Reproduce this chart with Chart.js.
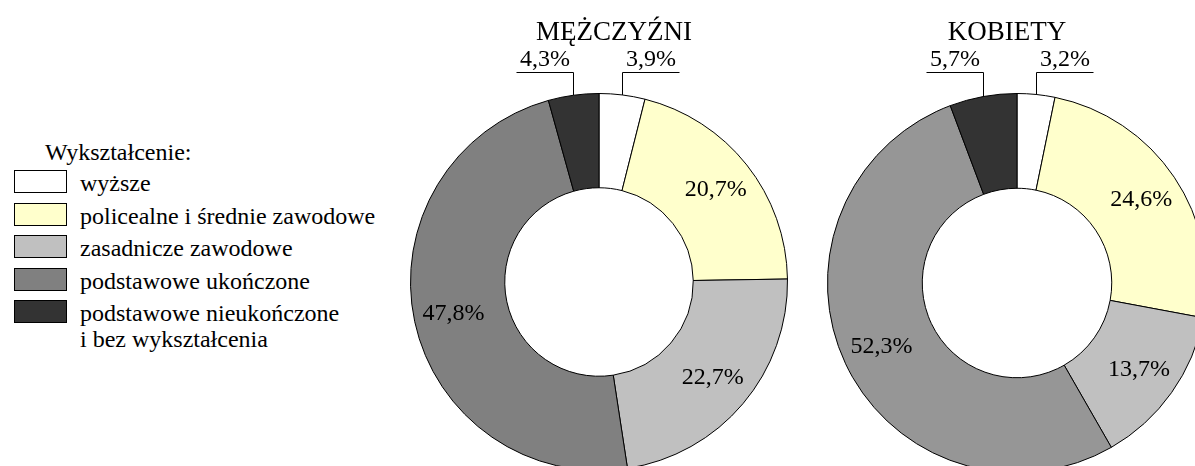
<!DOCTYPE html>
<html>
<head>
<meta charset="utf-8">
<script src="https://cdn.jsdelivr.net/npm/chart.js@4/dist/chart.umd.min.js"></script>
<style>
  html, body { margin: 0; padding: 0; background: #fff; overflow: hidden; }
  #page { position: relative; width: 1195px; height: 466px; overflow: hidden; font-family: "Liberation Serif", "Times New Roman", serif; color: #000; }
  #menBox { position: absolute; left: 389px; top: 0; }
  #womenBox { position: absolute; left: 807px; top: 0; }
  .legTitle { position: absolute; left: 45px; top: 139px; font-size: 24px; line-height: 26px; white-space: nowrap; }
  .legBox { position: absolute; left: 14px; width: 51px; height: 21px; border: 1px solid #000; }
  .legText { position: absolute; left: 80px; font-size: 24px; line-height: 26px; white-space: pre; }
</style>
</head>
<body>
<div id="page">
  <div id="legend"></div>
  <div id="menBox"><canvas id="menChart" width="420" height="500"></canvas></div>
  <div id="womenBox"><canvas id="womenChart" width="420" height="500"></canvas></div>
</div>
<script>
    // Data
    var legendTitle = 'Wykształcenie:';
    var categories = ['wyższe', 'policealne i średnie zawodowe', 'zasadnicze zawodowe', 'podstawowe ukończone', 'podstawowe nieukończone\ni bez wykształcenia'];
    var menValues = [3.9, 20.7, 22.7, 47.8, 4.3];
    var womenValues = [3.2, 24.6, 13.7, 52.3, 5.7];
    var legendColors = ['#FFFFFF', '#FFFFCC', '#C0C0C0', '#808080', '#333333'];
    var menColors = ['#FFFFFF', '#FFFFCC', '#C0C0C0', '#808080', '#333333'];
    var womenColors = ['#FFFFFF', '#FFFFCC', '#C0C0C0', '#969696', '#333333'];

    function fmt(v) {
      return v.toFixed(1).replace('.', ',') + '%';
    }

    // Legend (HTML)
    var legend = document.getElementById('legend');
    var t = document.createElement('div');
    t.className = 'legTitle';
    t.textContent = legendTitle;
    legend.appendChild(t);
    categories.forEach(function (c, i) {
      var top = 170 + i * 32.5;
      var b = document.createElement('div');
      b.className = 'legBox';
      b.style.top = top + 'px';
      b.style.background = legendColors[i];
      legend.appendChild(b);
      var s = document.createElement('div');
      s.className = 'legText';
      s.style.top = top + 'px';
      s.textContent = c;
      legend.appendChild(s);
    });

    // labels + title plugin
    var donutLabels = {
      id: 'donutLabels',
      afterDatasetsDraw: function (chart, args, opts) {
        var ctx = chart.ctx;
        var meta = chart.getDatasetMeta(0);
        var values = chart.data.datasets[0].data;
        var cx = 0, cy = 0, R = 0;
        ctx.save();
        ctx.fillStyle = '#000';
        ctx.strokeStyle = '#000';
        ctx.lineWidth = 1;
        ctx.font = '24px "Liberation Serif"';
        ctx.textAlign = 'center';
        meta.data.forEach(function (arc, i) {
          var p = arc.getProps(['x', 'y', 'startAngle', 'endAngle', 'innerRadius', 'outerRadius'], true);
          cx = p.x; cy = p.y; R = p.outerRadius;
          var mid = (p.startAngle + p.endAngle) / 2;
          var text = fmt(values[i]);
          if (values[i] < 6) {
            var x0 = Math.round(p.x + Math.cos(mid) * p.outerRadius) + 0.5;
            var y0 = p.y + Math.sin(mid) * p.outerRadius;
            var yLine = Math.round(p.y - p.outerRadius - 22) + 0.5;
            var dir = x0 >= p.x ? 1 : -1;
            var x1 = x0 + dir * 57;
            ctx.beginPath();
            ctx.moveTo(x0, y0);
            ctx.lineTo(x0, yLine);
            ctx.lineTo(x1, yLine);
            ctx.stroke();
            ctx.textBaseline = 'alphabetic';
            ctx.fillText(text, (x0 + x1) / 2, yLine - 7);
          } else {
            var r = p.innerRadius + (p.outerRadius - p.innerRadius) * 0.58;
            ctx.textBaseline = 'middle';
            ctx.fillText(text, p.x + Math.cos(mid) * r, p.y + Math.sin(mid) * r);
          }
        });
        ctx.font = '27px "Liberation Serif"';
        ctx.textBaseline = 'alphabetic';
        ctx.fillText(opts.text, cx + opts.shift, cy - R - 54);
        ctx.restore();
      }
    };

    function makeOptions(title, shift, pad) {
      return {
        responsive: false,
        animation: false,
        events: [],
        cutout: '50%',
        layout: { padding: pad },
        plugins: {
          legend: { display: false },
          tooltip: { enabled: false },
          donutLabels: { text: title, shift: shift }
        }
      };
    }

    // Men
    var menChart = new Chart(document.getElementById('menChart'), {
      type: 'doughnut',
      data: {
        labels: categories,
        datasets: [{
          data: menValues,
          backgroundColor: menColors,
          borderColor: '#000',
          borderWidth: 1
        }]
      },
      options: makeOptions('MĘŻCZYŹNI', 15, { top: 93, bottom: 29, left: 21, right: 21 }),
      plugins: [donutLabels]
    });

    // Women
    var womenChart = new Chart(document.getElementById('womenChart'), {
      type: 'doughnut',
      data: {
        labels: categories,
        datasets: [{
          data: womenValues,
          backgroundColor: womenColors,
          borderColor: '#000',
          borderWidth: 1
        }]
      },
      options: makeOptions('KOBIETY', -10, { top: 93, bottom: 27, left: 20, right: 20 }),
      plugins: [donutLabels]
    });
</script>
</body>
</html>
